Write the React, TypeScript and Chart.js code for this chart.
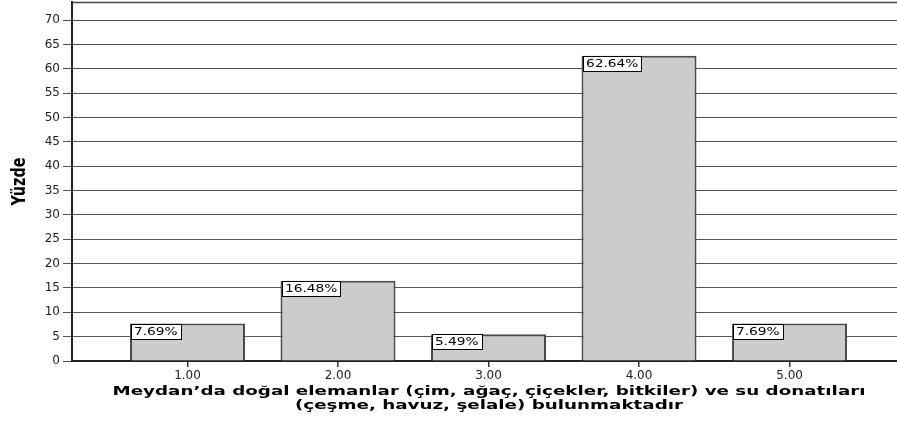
import React, { useEffect, useRef } from 'react';
import { Chart, registerables } from 'chart.js';

Chart.register(...registerables);

const categories = [1, 2, 3, 4, 5];
const percentages = [7.69, 16.48, 5.49, 62.64, 7.69];
const yTickValues = [0, 5, 10, 15, 20, 25, 30, 35, 40, 45, 50, 55, 60, 65, 70];
const xTitleLines = [
  'Meydan’da doğal elemanlar (çim, ağaç, çiçekler, bitkiler) ve su donatıları',
  '(çeşme, havuz, şelale) bulunmaktadır',
];
const yTitle = 'Yüzde';

const decorPlugin = {
  id: 'decor',
  afterDatasetsDraw(chart: any) {
    const ctx = chart.ctx as CanvasRenderingContext2D;
    const meta = chart.getDatasetMeta(0);
    ctx.save();
    ctx.font = '11px "DejaVu Sans"';
    const sx = 1.25;
    meta.data.forEach((bar: any, i: number) => {
      const { x, y, width } = bar.getProps(['x', 'y', 'width'], true);
      const text = percentages[i].toFixed(2) + '%';
      const tw = ctx.measureText(text).width * sx;
      const left = Math.round(x - width / 2) + 1;
      const top = Math.round(y);
      const bw = Math.round(tw + 6);
      const bh = 15;
      ctx.fillStyle = '#ffffff';
      ctx.fillRect(left, top, bw, bh);
      ctx.strokeStyle = '#000000';
      ctx.lineWidth = 1;
      ctx.strokeRect(left + 0.5, top + 0.5, bw, bh);
      ctx.save();
      ctx.translate(left + 3, top + bh / 2 + 0.5);
      ctx.scale(sx, 1);
      ctx.fillStyle = '#000000';
      ctx.textBaseline = 'middle';
      ctx.textAlign = 'left';
      ctx.fillText(text, 0, 0);
      ctx.restore();
    });
    ctx.restore();
  },
  afterDraw(chart: any) {
    const ctx = chart.ctx as CanvasRenderingContext2D;
    const area = chart.chartArea;
    ctx.save();
    // top frame line
    ctx.strokeStyle = '#444444';
    ctx.lineWidth = 1.5;
    ctx.beginPath();
    ctx.moveTo(area.left, area.top + 0.5);
    ctx.lineTo(area.right, area.top + 0.5);
    ctx.stroke();

    // y title
    ctx.font = 'bold 19px "DejaVu Sans Condensed"';
    const yw = ctx.measureText(yTitle).width;
    const ysx = 48 / yw;
    ctx.save();
    ctx.translate(20, (area.top + area.bottom) / 2);
    ctx.rotate(-Math.PI / 2);
    ctx.scale(ysx, 1);
    ctx.fillStyle = '#000000';
    ctx.textAlign = 'center';
    ctx.textBaseline = 'middle';
    ctx.fillText(yTitle, 0, 0);
    ctx.restore();

    // x title
    ctx.font = 'bold 13px "DejaVu Sans"';
    const w0 = ctx.measureText(xTitleLines[0]).width;
    const xsx = 753 / w0;
    const cx = 489;
    xTitleLines.forEach((line, i) => {
      ctx.save();
      ctx.translate(cx, 392 + i * 14);
      ctx.scale(xsx, 1);
      ctx.fillStyle = '#000000';
      ctx.textAlign = 'center';
      ctx.textBaseline = 'middle';
      ctx.fillText(line, 0, 0);
      ctx.restore();
    });
    ctx.restore();
  },
};

export default function App() {
  const canvasRef = useRef<HTMLCanvasElement | null>(null);

  useEffect(() => {
    document.body.style.margin = '0';
    const canvas = canvasRef.current;
    if (!canvas) return;
    const chart = new Chart(canvas, {
      type: 'bar',
      data: {
        datasets: [
          {
            data: categories.map((c, i) => ({ x: c, y: percentages[i] })),
            backgroundColor: '#cccccc',
            borderColor: '#4a4a4a',
            borderWidth: 2,
            barPercentage: 0.764,
            categoryPercentage: 1,
          },
        ],
      },
      options: {
        animation: false,
        responsive: false,
        maintainAspectRatio: false,
        devicePixelRatio: 1,
        layout: { padding: { top: 2, left: 0, right: 0, bottom: 0 } },
        plugins: {
          legend: { display: false },
          tooltip: { enabled: false },
        },
        scales: {
          x: {
            type: 'linear',
            offset: false,
            min: 0.2326,
            max: 5.714,
            afterBuildTicks: (s: any) => {
              s.ticks = categories.map((v) => ({ value: v }));
            },
            afterFit: (s: any) => {
              s.height = 60;
              s.paddingLeft = 0;
              s.paddingRight = 0;
            },
            ticks: {
              callback: (v: any) => Number(v).toFixed(2),
              font: { family: 'DejaVu Sans', size: 12 },
              color: '#222222',
              padding: 2,
              maxRotation: 0,
              autoSkip: false,
            },
            grid: {
              offset: false,
              drawOnChartArea: false,
              drawTicks: true,
              tickLength: 6,
              color: '#333333',
              lineWidth: 1.5,
            },
            border: { color: '#222222', width: 2 },
          },
          y: {
            min: 0,
            max: 73.7,
            afterBuildTicks: (s: any) => {
              s.ticks = yTickValues.map((v) => ({ value: v }));
            },
            afterFit: (s: any) => {
              s.width = 72;
              s.paddingTop = 0;
              s.paddingBottom = 0;
            },
            ticks: {
              font: { family: 'DejaVu Sans', size: 12 },
              color: '#222222',
              padding: 3,
            },
            grid: {
              color: '#555555',
              lineWidth: 1,
              drawTicks: true,
              tickLength: 9,
            },
            border: { color: '#222222', width: 2 },
          },
        },
      },
      plugins: [decorPlugin],
    } as any);
    return () => {
      chart.destroy();
    };
  }, []);

  return (
    <canvas
      ref={canvasRef}
      width={897}
      height={421}
      style={{ display: 'block', width: 897, height: 421 }}
    />
  );
}
